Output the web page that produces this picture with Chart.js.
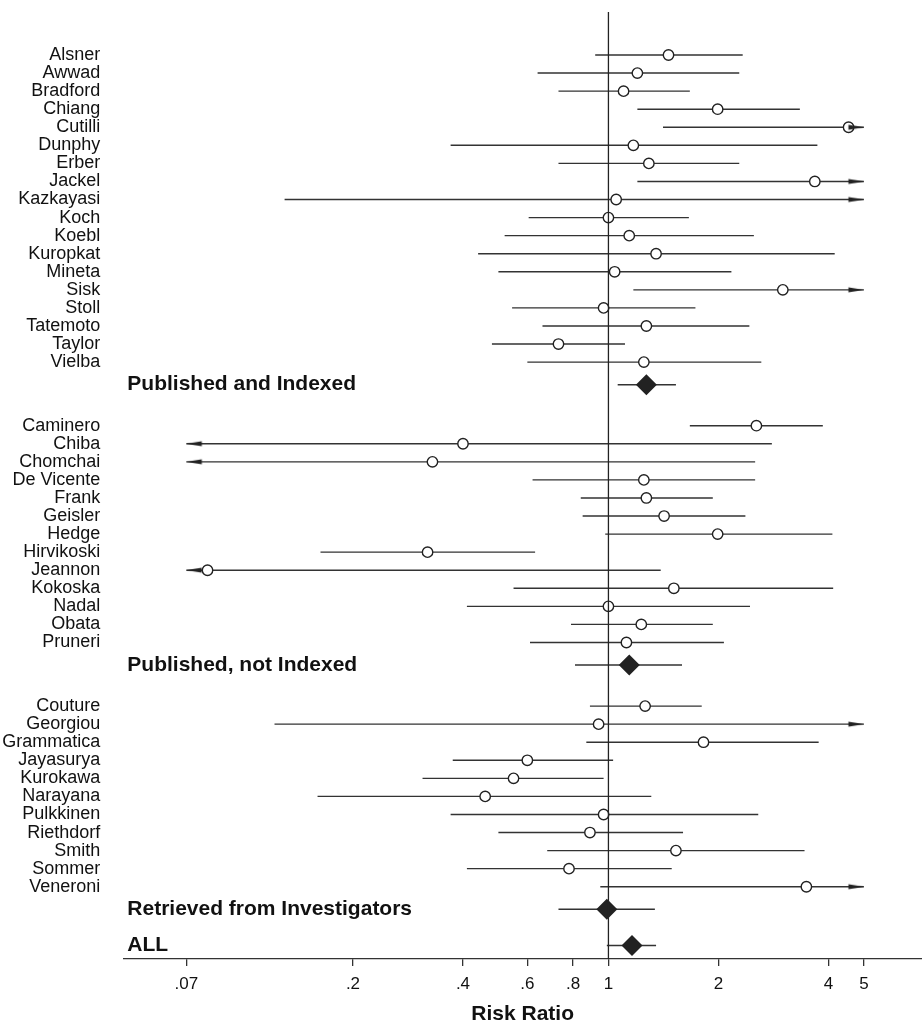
<!DOCTYPE html>
<html>
<head>
<meta charset="utf-8">
<script src="https://cdn.jsdelivr.net/npm/chart.js@4/dist/chart.umd.min.js"></script>
<style>
  html, body { margin: 0; padding: 0; background: #fff; overflow: hidden; }
  #wrap { width: 922px; height: 1022px; position: relative; }
</style>
</head>
<body>
<div id="wrap"><canvas id="forest"></canvas></div>
<script>
// ===== Data: risk ratio and 95% CI per study =====
const indexedNames = ["Alsner", "Awwad", "Bradford", "Chiang", "Cutilli", "Dunphy", "Erber", "Jackel", "Kazkayasi",
    "Koch", "Koebl", "Kuropkat", "Mineta", "Sisk", "Stoll", "Tatemoto", "Taylor", "Vielba"];
const indexedRR = [1.46, 1.20, 1.10, 1.99, 4.54, 1.17, 1.29, 3.67, 1.05, 1.00, 1.14, 1.35, 1.04, 3.00, 0.97, 1.27, 0.73, 1.25];
const indexedLo = [0.92, 0.64, 0.73, 1.20, 1.41, 0.37, 0.73, 1.20, 0.13, 0.605, 0.52, 0.44, 0.50, 1.17, 0.545, 0.66, 0.48, 0.60];
const indexedHi = [2.33, 2.28, 1.67, 3.34, 5, 3.73, 2.28, 5, 5, 1.66, 2.50, 4.16, 2.17, 5, 1.73, 2.43, 1.11, 2.62];

const notIndexedNames = ["Caminero", "Chiba", "Chomchai", "De Vicente", "Frank", "Geisler", "Hedge", "Hirvikoski",
    "Jeannon", "Kokoska", "Nadal", "Obata", "Pruneri"];
const notIndexedRR = [2.54, 0.40, 0.33, 1.25, 1.27, 1.42, 1.99, 0.32, 0.080, 1.51, 1.00, 1.23, 1.12];
const notIndexedLo = [1.67, 0.07, 0.07, 0.62, 0.84, 0.85, 0.98, 0.163, 0.07, 0.55, 0.41, 0.79, 0.61];
const notIndexedHi = [3.86, 2.80, 2.52, 2.52, 1.93, 2.37, 4.10, 0.63, 1.39, 4.12, 2.44, 1.93, 2.07];

const investigatorNames = ["Couture", "Georgiou", "Grammatica", "Jayasurya", "Kurokawa", "Narayana", "Pulkkinen",
    "Riethdorf", "Smith", "Sommer", "Veneroni"];
const investigatorRR = [1.26, 0.94, 1.82, 0.60, 0.55, 0.46, 0.97, 0.89, 1.53, 0.78, 3.48];
const investigatorLo = [0.89, 0.122, 0.87, 0.375, 0.31, 0.16, 0.37, 0.50, 0.68, 0.41, 0.95];
const investigatorHi = [1.80, 5, 3.76, 1.03, 0.97, 1.31, 2.57, 1.60, 3.44, 1.49, 5];

const summaryNames = ["Published and Indexed", "Published, not Indexed", "Retrieved from Investigators", "ALL"];
const summaryRR = [1.27, 1.14, 0.99, 1.16];
const summaryLo = [1.06, 0.81, 0.73, 0.99];
const summaryHi = [1.53, 1.59, 1.34, 1.35];

const xTickValues = [0.07, 0.2, 0.4, 0.6, 0.8, 1, 2, 4, 5];
const xTickLabels = [".07", ".2", ".4", ".6", ".8", "1", "2", "4", "5"];

// ===== Layout constants =====
const FONT = '"Liberation Sans", Arial, Helvetica, sans-serif';
const CLIP_LO = 0.07, CLIP_HI = 5;   // CIs beyond these get an arrow
const REF_VALUE = 1;
const GROUP_GAP = 2.27, SUMMARY_GAP = 1.25, ALL_GAP = 2;
const Y_MIN = -2.38;

// ===== Build row positions =====
const groups = [
    { names: indexedNames, rr: indexedRR, lo: indexedLo, hi: indexedHi },
    { names: notIndexedNames, rr: notIndexedRR, lo: notIndexedLo, hi: notIndexedHi },
    { names: investigatorNames, rr: investigatorRR, lo: investigatorLo, hi: investigatorHi }
];

const studyRows = [];
const summaryY = [];
let pos = 0;
groups.forEach((g, gi) => {
    if (gi > 0) pos = summaryY[gi - 1] + GROUP_GAP;
    g.names.forEach((name, i) => {
        studyRows.push({ name, y: pos, rr: g.rr[i], lo: g.lo[i], hi: g.hi[i] });
        pos += 1;
    });
    summaryY.push(pos - 1 + SUMMARY_GAP);
});
summaryY.push(summaryY[summaryY.length - 1] + ALL_GAP);
const Y_MAX = summaryY[summaryY.length - 1] + 0.75;

// CI segments, separated by gaps
const ciData = [];
studyRows.forEach(r => {
    ciData.push({ x: Math.max(r.lo, CLIP_LO), y: r.y }, { x: Math.min(r.hi, CLIP_HI), y: r.y }, { x: null, y: null });
});
summaryY.forEach((y, i) => {
    ciData.push({ x: summaryLo[i], y }, { x: summaryHi[i], y }, { x: null, y: null });
});

// ===== Arrow head image =====
function makeArrow() {
    const c = document.createElement("canvas");
    c.width = 34;
    c.height = 8;
    const g = c.getContext("2d");
    g.fillStyle = "#222";
    g.beginPath();
    g.moveTo(17, 4);
    g.lineTo(1.5, 1.5);
    g.lineTo(1.5, 6.5);
    g.closePath();
    g.fill();
    return c;
}
const arrowImg = makeArrow();

// ===== Group header labels =====
const groupHeaders = {
    id: "groupHeaders",
    afterDatasetsDraw(chart) {
        const { ctx, chartArea, scales } = chart;
        ctx.save();
        ctx.font = "bold 21px " + FONT;
        ctx.fillStyle = "#111";
        ctx.textBaseline = "middle";
        ctx.textAlign = "left";
        summaryNames.forEach((name, i) => {
            ctx.fillText(name, chartArea.left + 4, scales.y.getPixelForValue(summaryY[i]));
        });
        ctx.restore();
    }
};

new Chart(document.getElementById("forest"), {
    type: "scatter",
    data: {
        datasets: [
            {
                // reference line at RR = 1
                data: [{ x: REF_VALUE, y: Y_MIN }, { x: REF_VALUE, y: Y_MAX }],
                showLine: true, borderColor: "#222", borderWidth: 1.3, pointRadius: 0, order: 0
            },
            {
                data: studyRows.filter(r => r.hi >= CLIP_HI).map(r => ({ x: CLIP_HI, y: r.y })),
                pointStyle: arrowImg, pointRadius: 3, order: 1
            },
            {
                data: studyRows.filter(r => r.lo <= CLIP_LO).map(r => ({ x: CLIP_LO, y: r.y })),
                pointStyle: arrowImg, rotation: 180, pointRadius: 3, order: 1
            },
            {
                data: summaryY.map((y, i) => ({ x: summaryRR[i], y })),
                pointStyle: "rectRot", pointRadius: 10.5, backgroundColor: "#222", borderColor: "#222",
                borderWidth: 0, order: 2
            },
            {
                data: studyRows.map(r => ({ x: r.rr, y: r.y })),
                pointStyle: "circle", pointRadius: 5.2, backgroundColor: "#fff", borderColor: "#222",
                borderWidth: 1.4, order: 3
            },
            {
                data: ciData,
                showLine: true, spanGaps: false, borderColor: "#333", borderWidth: 1.4, pointRadius: 0, order: 4
            }
        ]
    },
    options: {
        responsive: true,
        maintainAspectRatio: false,
        animation: false,
        layout: { autoPadding: false, padding: { top: 12, right: 0, bottom: 0, left: 0 } },
        plugins: { legend: { display: false }, tooltip: { enabled: false } },
        scales: {
            x: {
                type: "logarithmic",
                min: 0.04706,
                max: 7.21,
                afterBuildTicks: s => { s.ticks = xTickValues.map(v => ({ value: v })); },
                afterFit: s => { s.height = 63; s.paddingLeft = 0; s.paddingRight = 0; },
                ticks: {
                    autoSkip: false, maxRotation: 0, padding: 8, color: "#111",
                    font: { family: FONT, size: 17 },
                    callback: (v, i) => xTickLabels[i]
                },
                grid: { display: true, drawOnChartArea: false, tickLength: 7, tickColor: "#333", lineWidth: 1.3 },
                border: { display: true, color: "#333", width: 1.3 },
                title: {
                    display: true, text: "Risk Ratio", color: "#111",
                    font: { family: FONT, size: 21, weight: "bold" },
                    padding: { top: 0, bottom: -5 }
                }
            },
            y: {
                type: "linear",
                reverse: true,
                min: Y_MIN,
                max: Y_MAX,
                afterBuildTicks: s => { s.ticks = studyRows.map(r => ({ value: r.y })); },
                afterFit: s => { s.width = 123.3; s.paddingTop = 0; s.paddingBottom = 0; },
                ticks: {
                    autoSkip: false, padding: 23, color: "#111",
                    font: { family: FONT, size: 18 },
                    callback: (v, i) => studyRows[i].name
                },
                grid: { display: false, drawTicks: false },
                border: { display: false }
            }
        }
    },
    plugins: [groupHeaders]
});
</script>
</body>
</html>
